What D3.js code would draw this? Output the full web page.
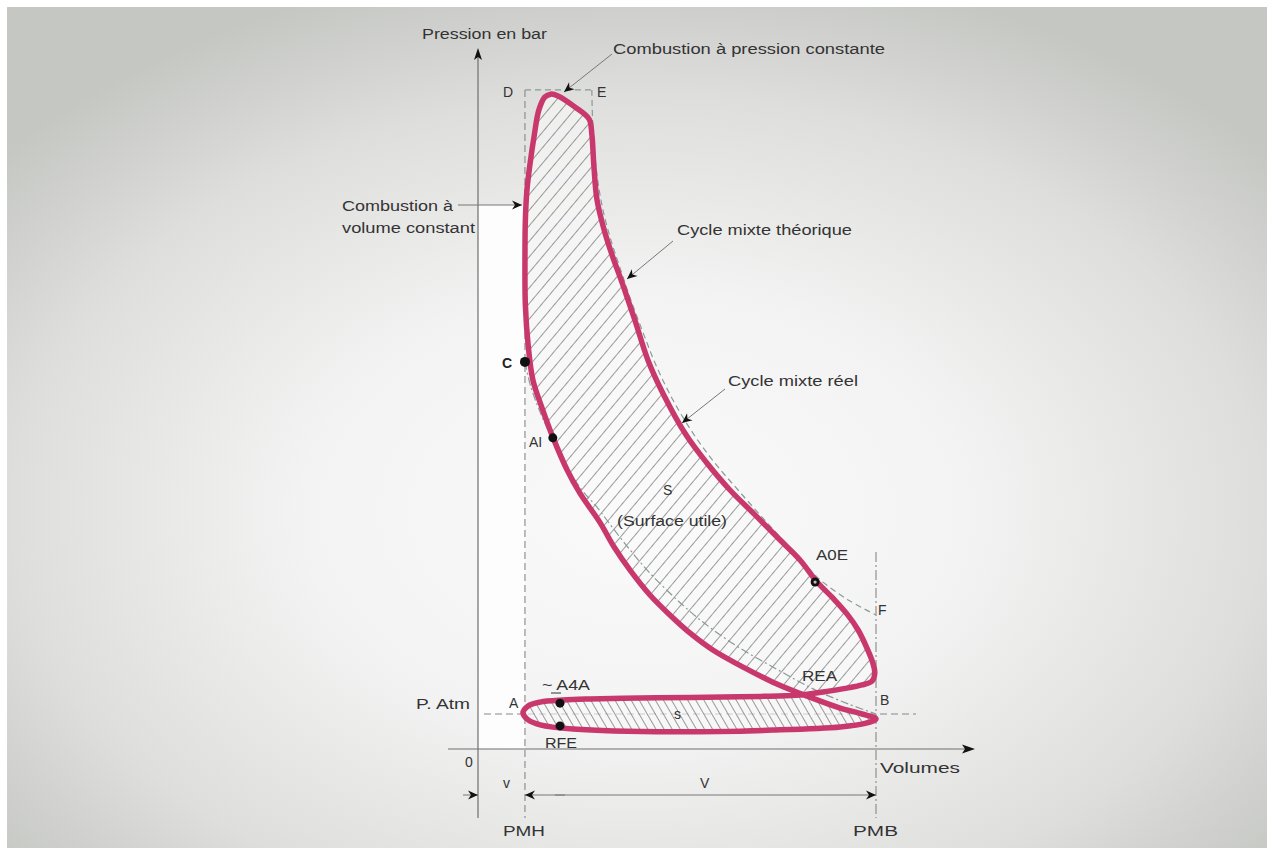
<!DOCTYPE html>
<html><head><meta charset="utf-8">
<script src="https://cdn.jsdelivr.net/npm/d3@7"></script>
<style>
body{margin:0;background:#fff;}
svg{display:block;}
text{font-family:"Liberation Sans",Arial,Helvetica,sans-serif;}
</style>
</head><body>
<svg id="c" width="1267" height="848"></svg>
<script>
// ---------------- DATA ----------------
// Volume in % of cylinder volume (0 = origin, PMB = 100), pressure in bar
const PMH = 11.8;
const PMB = 100;
const P_ATM = 1.0;

// Real mixed cycle (figure-eight), in drawing order starting at A
const realVolume = [11.3,12.6,15.6,23.9,49.0,74.1,91.0,97.5,100.0,96.5,91.0,82.7,74.1,67.1,59.0,53.3,48.2,43.2,38.2,34.2,30.7,25.6,22.4,18.8,16.1,13.8,12.6,11.9,11.8,11.9,12.3,13.1,14.1,15.3,16.8,18.3,20.1,24.4,27.9,28.6,29.1,29.9,31.7,33.7,36.4,39.4,42.7,46.7,52.3,57.3,63.3,69.6,75.9,80.9,85.2,89.2,92.7,95.5,97.7,99.2,99.7,99.0,96.5,92.7,86.7,80.9,73.4,65.8,53.3,40.7,28.1,21.4,15.6,12.6];
const realPressure = [1.03,0.83,0.69,0.57,0.49,0.54,0.63,0.74,0.86,1.0,1.17,1.51,1.91,2.31,2.83,3.31,3.83,4.40,5.11,5.77,6.46,7.31,7.97,8.91,9.74,10.54,11.54,12.69,13.97,15.11,15.97,16.74,17.51,18.26,18.63,18.71,18.66,18.34,18.0,17.57,16.69,15.69,14.83,14.11,13.26,12.26,11.11,10.11,8.97,8.20,7.40,6.69,5.97,5.40,4.77,4.31,3.86,3.40,2.89,2.46,2.17,1.94,1.83,1.74,1.63,1.54,1.51,1.49,1.47,1.46,1.43,1.40,1.34,1.23];

// Theoretical cycle: D -> E -> expansion -> F
const theoExpVolume = [11.8,28.6,28.9,29.9,31.4,33.4,35.7,38.4,41.5,44.7,48.7,53.8,59.3,65.8,72.9,79.6,85.4,93.0,100];
const theoExpPressure = [18.83,18.83,17.69,16.4,15.4,14.54,13.74,12.83,11.89,10.97,10.03,9.06,8.2,7.34,6.43,5.6,4.89,4.26,3.83];
// Theoretical compression: C -> B
const theoCompVolume = [11.8,13.3,15.6,18.8,22.4,26.1,29.9,33.9,38.2,42.5,48.7,55.8,64.6,74.6,84.7,93.0,100];
const theoCompPressure = [11.06,10.34,9.63,8.83,8.03,7.4,6.91,6.31,5.69,5.11,4.4,3.69,2.97,2.31,1.69,1.29,1.0];

// Characteristic points
const pointNames = ["C","AI","A0E","A4A","RFE"];
const pointVolume = [11.8,18.8,84.7,20.6,20.6];
const pointPressure = [11.06,8.89,4.77,1.31,0.66];

// ---------------- DRAWING ----------------
const W = 1267, H = 848;
const svg = d3.select("#c");
const x = d3.scaleLinear().domain([0, 100]).range([478, 876]);
const y = d3.scaleLinear().domain([0, 20]).range([749, 49]);

const defs = svg.append("defs");
const rg = defs.append("radialGradient").attr("id","bg")
  .attr("cx","0.5").attr("cy","0.6").attr("r","0.66");
[[0,"#fafafa"],[0.4,"#f3f3f3"],[0.75,"#dededc"],[1,"#c5c7c3"]]
  .forEach(([o,c]) => rg.append("stop").attr("offset",o).attr("stop-color",c));

function makeHatch(id, size, angle) {
  const p = defs.append("pattern").attr("id",id)
    .attr("patternUnits","userSpaceOnUse").attr("width",size).attr("height",size)
    .attr("patternTransform",`rotate(${angle})`);
  p.append("line").attr("x1",0).attr("y1",0).attr("x2",0).attr("y2",size)
    .attr("stroke","#4a4a4a").attr("stroke-width",1.1);
}
makeHatch("hatch", 10, 40);
makeHatch("hatch2", 7, -30);

defs.append("marker").attr("id","arr").attr("viewBox","0 0 10 10")
  .attr("refX",10).attr("refY",5).attr("markerWidth",13).attr("markerHeight",10)
  .attr("markerUnits","userSpaceOnUse").attr("orient","auto")
  .append("path").attr("d","M0,0.5 L10,5 L0,9.5 L3,5 Z").attr("fill","#111");

svg.append("rect").attr("width",W).attr("height",H).attr("fill","#fff");
svg.append("rect").attr("x",7).attr("y",7).attr("width",W-7).attr("height",H-7).attr("fill","url(#bg)");

// white panel between axis and PMH
svg.append("rect").attr("x",x(0)).attr("y",205).attr("width",x(PMH)-x(0)).attr("height",y(0)-205)
  .attr("fill","#fdfdfd");

const guide = "#6f6f6f";
// Y axis
svg.append("line").attr("x1",x(0)).attr("x2",x(0)).attr("y1",52).attr("y2",818)
  .attr("stroke",guide).attr("stroke-width",1.2);
svg.append("path").attr("d",`M${x(0)},48 L${x(0)-4},60 L${x(0)},57 L${x(0)+4},60 Z`).attr("fill","#111");
// X axis
svg.append("line").attr("x1",448).attr("x2",968).attr("y1",y(0)).attr("y2",y(0))
  .attr("stroke",guide).attr("stroke-width",1.2);
svg.append("path").attr("d",`M975,${y(0)} L962,${y(0)-4.5} L965,${y(0)} L962,${y(0)+4.5} Z`).attr("fill","#111");

// PMH line
svg.append("line").attr("x1",x(PMH)).attr("x2",x(PMH)).attr("y1",y(18.83)).attr("y2",818)
  .attr("stroke","#888").attr("stroke-width",1.1).attr("stroke-dasharray","7,4");
// PMB line
svg.append("line").attr("x1",x(PMB)).attr("x2",x(PMB)).attr("y1",552).attr("y2",818)
  .attr("stroke","#888").attr("stroke-width",1.1).attr("stroke-dasharray","10,3,2,3");
// P atm line
svg.append("line").attr("x1",484).attr("x2",916).attr("y1",y(P_ATM)).attr("y2",y(P_ATM))
  .attr("stroke","#888").attr("stroke-width",1.1).attr("stroke-dasharray","7,4");

// real cycle fills (hatched loops)
const real = realVolume.map((v,i) => [v, realPressure[i]]);
const closedGen = d3.line().x(d=>x(d[0])).y(d=>y(d[1])).curve(d3.curveCatmullRomClosed.alpha(0.5));
const upperLoop = real.slice(11, 66);
const lowerLoop = real.slice(65).concat(real.slice(0, 12));
svg.append("path").attr("d", closedGen(real)).attr("fill","#fafafa").attr("fill-opacity",0.6);
svg.append("path").attr("d", closedGen(upperLoop)).attr("fill","url(#hatch)");
svg.append("path").attr("d", closedGen(lowerLoop)).attr("fill","url(#hatch2)");

// theoretical cycle (dashed)
const theoExp = theoExpVolume.map((v,i) => [v, theoExpPressure[i]]);
const theoComp = theoCompVolume.map((v,i) => [v, theoCompPressure[i]]);
const smooth = d3.line().x(d=>x(d[0])).y(d=>y(d[1])).curve(d3.curveCatmullRom.alpha(0.5));
const straight = d3.line().x(d=>x(d[0])).y(d=>y(d[1]));
svg.append("path").attr("d", smooth(theoExp.slice(1)))
  .attr("fill","none").attr("stroke","#8b9997").attr("stroke-width",1.2).attr("stroke-dasharray","6,4");
svg.append("path").attr("d", straight(theoExp.slice(0,2)))
  .attr("fill","none").attr("stroke","#8b9997").attr("stroke-width",1.2).attr("stroke-dasharray","6,4");
svg.append("path").attr("d", smooth(theoComp))
  .attr("fill","none").attr("stroke","#8b9997").attr("stroke-width",1.2).attr("stroke-dasharray","8,3,2,3");

// real cycle outline
svg.append("path").attr("d", closedGen(real)).attr("fill","none")
  .attr("stroke","#c8386c").attr("stroke-width",5.5).attr("stroke-linejoin","round");

// annotation arrows
const arrows = [[612,54,564,92],[458,205,522,205],[673,241,627,279],[725,389,682,423]];
arrows.forEach(a => svg.append("line").attr("x1",a[0]).attr("y1",a[1]).attr("x2",a[2]).attr("y2",a[3])
  .attr("stroke","#777").attr("stroke-width",1).attr("marker-end","url(#arr)"));

// dimension line
const dimY = 795;
svg.append("line").attr("x1",463).attr("x2",x(0)).attr("y1",dimY).attr("y2",dimY)
  .attr("stroke","#777").attr("stroke-width",1).attr("marker-end","url(#arr)");
svg.append("line").attr("x1",x(PMH)+40).attr("x2",x(PMH)).attr("y1",dimY).attr("y2",dimY)
  .attr("stroke","#777").attr("stroke-width",1).attr("marker-end","url(#arr)");
svg.append("line").attr("x1",x(PMH)+30).attr("x2",x(PMB)).attr("y1",dimY).attr("y2",dimY)
  .attr("stroke","#777").attr("stroke-width",1).attr("marker-end","url(#arr)");

// points
pointNames.forEach((n,i) => {
  svg.append("circle").attr("cx",x(pointVolume[i])).attr("cy",y(pointPressure[i]))
    .attr("r", n==="C"?5:4.5).attr("fill","#111");
  if (n==="A0E") svg.append("circle").attr("cx",x(pointVolume[i])).attr("cy",y(pointPressure[i]))
    .attr("r",1.6).attr("fill","#bbb");
});

// labels
const labels = [
 {t:"Pression en bar", x:422, y:39, w:125},
 {t:"Combustion à pression constante", x:613, y:54, w:272},
 {t:"D", x:503, y:97},
 {t:"E", x:597, y:97},
 {t:"Combustion à", x:342, y:211, w:111},
 {t:"volume constant", x:342, y:233, w:133},
 {t:"Cycle mixte théorique", x:677, y:235, w:175},
 {t:"Cycle mixte réel", x:728, y:386, w:130},
 {t:"C", x:502, y:368, b:true},
 {t:"AI", x:529, y:447},
 {t:"S", x:663, y:495},
 {t:"(Surface utile)", x:617, y:526, w:110},
 {t:"A0E", x:816, y:560, w:32},
 {t:"F", x:878, y:615},
 {t:"REA", x:802, y:681, w:35},
 {t:"B", x:880, y:705},
 {t:"P. Atm", x:416, y:709, w:54},
 {t:"A", x:509, y:708},
 {t:"~ A4A", x:542, y:690, w:48},
 {t:"s", x:674, y:719},
 {t:"RFE", x:545, y:748, w:32},
 {t:"0", x:465, y:767},
 {t:"v", x:503, y:788},
 {t:"V", x:700, y:788},
 {t:"Volumes", x:880, y:773, w:80},
 {t:"PMH", x:503, y:836, w:42},
 {t:"PMB", x:853, y:836, w:45}
];
labels.forEach(l => {
  const t = svg.append("text").attr("x",l.x).attr("y",l.y).text(l.t)
    .attr("font-size",14).attr("fill","#333");
  if (l.w) t.attr("textLength",l.w).attr("lengthAdjust","spacingAndGlyphs");
  if (l.b) t.attr("font-weight","bold").attr("fill","#222");
});
// underline of A in A4A
svg.append("line").attr("x1",551).attr("x2",561).attr("y1",693).attr("y2",693).attr("stroke","#333").attr("stroke-width",1);
</script>
</body></html>
